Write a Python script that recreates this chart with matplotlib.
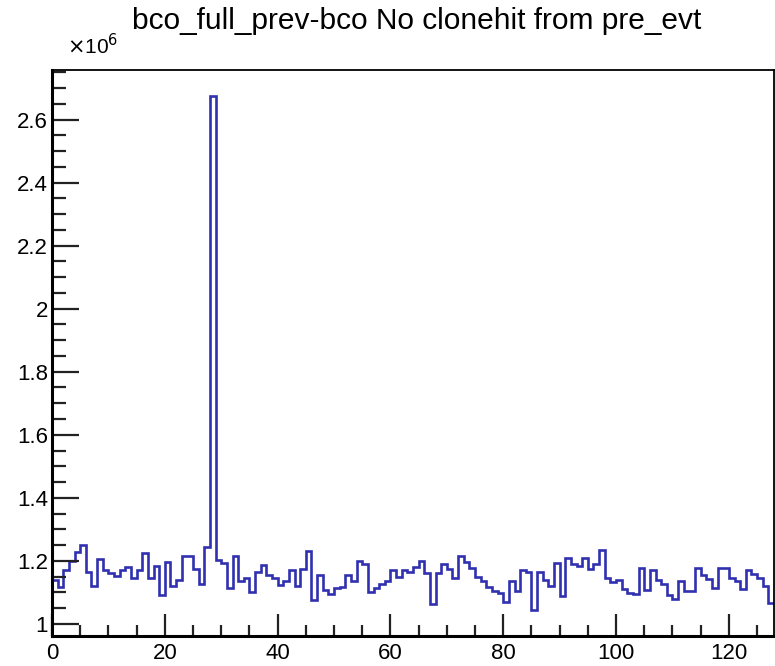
import matplotlib
matplotlib.use("Agg")
import matplotlib.pyplot as plt
import numpy as np
from matplotlib.ticker import MultipleLocator, FuncFormatter

plt.rcParams['font.family'] = ['Liberation Sans', 'DejaVu Sans']

# bin edges 0..128, one bin per unit
bin_lo = 0
bin_hi = 128

# counts per bin, in units of 1e6
counts = [
    1.140, 1.117, 1.172, 1.198, 1.227, 1.251, 1.166, 1.119, 1.207, 1.172,
    1.161, 1.153, 1.170, 1.179, 1.145, 1.170, 1.225, 1.147, 1.183, 1.092,
    1.195, 1.120, 1.140, 1.215, 1.215, 1.175, 1.127, 1.243, 2.676, 1.203,
    1.193, 1.113, 1.214, 1.135, 1.145, 1.101, 1.166, 1.188, 1.156, 1.147,
    1.122, 1.135, 1.172, 1.119, 1.174, 1.232, 1.076, 1.156, 1.108, 1.094,
    1.113, 1.117, 1.156, 1.137, 1.200, 1.190, 1.100, 1.113, 1.125, 1.137,
    1.172, 1.150, 1.172, 1.165, 1.180, 1.198, 1.160, 1.062, 1.160, 1.190,
    1.173, 1.145, 1.215, 1.196, 1.177, 1.150, 1.135, 1.118, 1.105, 1.097,
    1.068, 1.135, 1.105, 1.172, 1.166, 1.043, 1.165, 1.140, 1.121, 1.192,
    1.087, 1.208, 1.190, 1.182, 1.208, 1.175, 1.190, 1.233, 1.145, 1.132,
    1.140, 1.110, 1.097, 1.095, 1.177, 1.108, 1.172, 1.140, 1.126, 1.090,
    1.080, 1.137, 1.105, 1.105, 1.177, 1.156, 1.142, 1.113, 1.177, 1.177,
    1.147, 1.135, 1.110, 1.172, 1.158, 1.145, 1.119, 1.066,
]

title = "bco_full_prev-bco No clonehit from pre_evt"

edges = np.linspace(bin_lo, bin_hi, len(counts) + 1)
vals = np.array(counts)

fig = plt.figure(figsize=(7.75, 6.66), dpi=100)
ax = fig.add_axes([0.0671, 0.045, 0.9316, 0.850])

ax.stairs(vals, edges, baseline=None, color='#3030b0', linewidth=1.9)

# ROOT-like margins: 5% of the data range
lo, hi = vals.min(), vals.max()
pad = 0.05 * (hi - lo)
ax.set_ylim(lo - pad, hi + pad)
ax.set_xlim(bin_lo, bin_hi)

ax.xaxis.set_major_locator(MultipleLocator(20))
ax.xaxis.set_minor_locator(MultipleLocator(5))
ax.yaxis.set_major_locator(MultipleLocator(0.2))
ax.yaxis.set_minor_locator(MultipleLocator(0.05))
ax.yaxis.set_major_formatter(FuncFormatter(lambda v, p: "%g" % round(v, 2)))

ax.tick_params(axis='both', which='both', direction='in', top=False, right=False,
               labelsize=16, width=1.6, colors='#222222', labelcolor='black')
ax.tick_params(axis='y', which='major', length=19.5, pad=3)
ax.tick_params(axis='y', which='minor', length=10)
ax.tick_params(axis='x', which='major', length=16, pad=5)
ax.tick_params(axis='x', which='minor', length=8)

for side in ['left', 'bottom']:
    ax.spines[side].set_linewidth(2.2)
for side in ['top', 'right']:
    ax.spines[side].set_linewidth(1.3)

fig.text(0.538, 0.969, title, ha='center', va='center', fontsize=21.5)
fig.text(0.087, 0.932, r"$\times$10$^{6}$", ha='left', va='center', fontsize=15)

fig.savefig("out.png", dpi=100)
